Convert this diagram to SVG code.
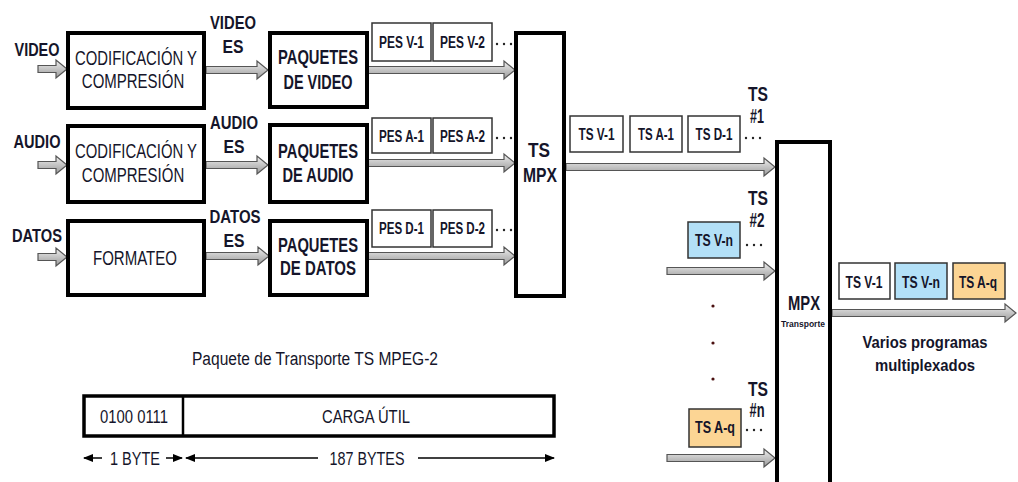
<svg xmlns="http://www.w3.org/2000/svg" width="1018" height="482" viewBox="0 0 1018 482">
<defs>
<linearGradient id="ag" x1="0" y1="0" x2="0" y2="1">
<stop offset="0" stop-color="#f0f0f0"/><stop offset="0.5" stop-color="#c4c4c4"/><stop offset="1" stop-color="#9a9a9a"/>
</linearGradient>
<marker id="hl" viewBox="0 0 10 10" refX="1" refY="5" markerWidth="10" markerHeight="10" markerUnits="userSpaceOnUse" orient="auto"><path d="M10,1 L0,5 L10,9 Z" fill="#000"/></marker>
<marker id="hr" viewBox="0 0 10 10" refX="9" refY="5" markerWidth="10" markerHeight="10" markerUnits="userSpaceOnUse" orient="auto"><path d="M0,1 L10,5 L0,9 Z" fill="#000"/></marker>
<g id="d3"><circle cx="0" cy="0" r="1.2"/><circle cx="7" cy="0" r="1.2"/><circle cx="14" cy="0" r="1.2"/></g>
</defs>
<style>
text{font-family:"Liberation Sans Narrow","Liberation Sans",Arial,sans-serif;fill:#15152a;text-anchor:middle}
.b{font-weight:bold}
.big{font-size:20px}
.lbl{font-size:19px;font-weight:bold}
.sm{font-size:16px;font-weight:bold}
.box{fill:#fff;stroke:#000;stroke-width:4}
.pk{fill:#fff;stroke:#333;stroke-width:1.5}
.blue{fill:#b3e0f7;stroke:#333;stroke-width:1.5}
.org{fill:#fcd594;stroke:#333;stroke-width:1.5}
.arr{fill:url(#ag);stroke:#555;stroke-width:1.2}
.dd{fill:#222}
.vd{fill:#4a1010}
</style>

<g id="connectors">
<path class="arr" d="M38,65.5 L56,65.5 L56,60 L67,69 L56,78 L56,72.5 L38,72.5 Z"/>
<path class="arr" d="M38,161.5 L56,161.5 L56,156 L67,165 L56,174 L56,168.5 L38,168.5 Z"/>
<path class="arr" d="M38,253.5 L56,253.5 L56,248 L67,257 L56,266 L56,260.5 L38,260.5 Z"/>
<path class="arr" d="M206,66.5 L257,66.5 L257,61 L268,70 L257,79 L257,73.5 L206,73.5 Z"/>
<path class="arr" d="M206,161.5 L257,161.5 L257,156 L268,165 L257,174 L257,168.5 L206,168.5 Z"/>
<path class="arr" d="M206,252.5 L258,252.5 L258,247 L269,256 L258,265 L258,259.5 L206,259.5 Z"/>
<path class="arr" d="M368,66.5 L504,66.5 L504,61 L515,70 L504,79 L504,73.5 L368,73.5 Z"/>
<path class="arr" d="M368,159.5 L504,159.5 L504,154 L515,163 L504,172 L504,166.5 L368,166.5 Z"/>
<path class="arr" d="M368,252.5 L504,252.5 L504,247 L515,256 L504,265 L504,259.5 L368,259.5 Z"/>
<path class="arr" d="M566,163.5 L764,163.5 L764,158 L775,167 L764,176 L764,170.5 L566,170.5 Z"/>
<path class="arr" d="M667,267.5 L764,267.5 L764,262 L775,271 L764,280 L764,274.5 L667,274.5 Z"/>
<path class="arr" d="M667,454.5 L764,454.5 L764,449 L775,458 L764,467 L764,461.5 L667,461.5 Z"/>
<path class="arr" d="M832,309.5 L1005,309.5 L1005,304 L1016,313 L1005,322 L1005,316.5 L832,316.5 Z"/>
</g>

<g id="labels-in">
<text class="lbl" x="37" y="56" textLength="45" lengthAdjust="spacingAndGlyphs">VIDEO</text>
<text class="lbl" x="37" y="148" textLength="47" lengthAdjust="spacingAndGlyphs">AUDIO</text>
<text class="lbl" x="37" y="242" textLength="50" lengthAdjust="spacingAndGlyphs">DATOS</text>
<text class="lbl" x="233" y="29" textLength="46" lengthAdjust="spacingAndGlyphs">VIDEO</text>
<text class="lbl" x="233" y="53" textLength="21" lengthAdjust="spacingAndGlyphs">ES</text>
<text class="lbl" x="234" y="129" textLength="48" lengthAdjust="spacingAndGlyphs">AUDIO</text>
<text class="lbl" x="234" y="153" textLength="21" lengthAdjust="spacingAndGlyphs">ES</text>
<text class="lbl" x="235" y="223" textLength="51" lengthAdjust="spacingAndGlyphs">DATOS</text>
<text class="lbl" x="234" y="247" textLength="21" lengthAdjust="spacingAndGlyphs">ES</text>
</g>

<g id="cod-video">
<rect class="box" x="68" y="33" width="136" height="75"/>
<text class="big" transform="translate(136,65) scale(0.744,1)" x="0" y="0">CODIFICACIÓN Y</text>
<text class="big" transform="translate(133,88) scale(0.75,1)" x="0" y="0">COMPRESIÓN</text>
</g>
<g id="cod-audio">
<rect class="box" x="68" y="126" width="136" height="76"/>
<text class="big" transform="translate(136,158) scale(0.744,1)" x="0" y="0">CODIFICACIÓN Y</text>
<text class="big" transform="translate(133,182) scale(0.75,1)" x="0" y="0">COMPRESIÓN</text>
</g>
<g id="formateo">
<rect class="box" x="68" y="221" width="136" height="74"/>
<text class="big" x="135" y="265" textLength="84" lengthAdjust="spacingAndGlyphs">FORMATEO</text>
</g>

<g id="paq-video">
<rect class="box" x="270" y="33" width="97" height="74"/>
<text class="b big" x="318" y="64" textLength="80" lengthAdjust="spacingAndGlyphs">PAQUETES</text>
<text class="b big" x="318" y="89" textLength="69" lengthAdjust="spacingAndGlyphs">DE VIDEO</text>
</g>
<g id="paq-audio">
<rect class="box" x="270" y="125" width="97" height="77"/>
<text class="b big" x="318" y="158" textLength="80" lengthAdjust="spacingAndGlyphs">PAQUETES</text>
<text class="b big" x="318" y="182" textLength="71" lengthAdjust="spacingAndGlyphs">DE AUDIO</text>
</g>
<g id="paq-datos">
<rect class="box" x="270" y="221" width="97" height="74"/>
<text class="b big" x="318" y="252" textLength="80" lengthAdjust="spacingAndGlyphs">PAQUETES</text>
<text class="b big" x="318" y="275" textLength="76" lengthAdjust="spacingAndGlyphs">DE DATOS</text>
</g>

<g id="pes">
<rect class="pk" x="372" y="23" width="59" height="38"/><text class="sm" x="401.5" y="48" textLength="45" lengthAdjust="spacingAndGlyphs">PES V-1</text>
<rect class="pk" x="433" y="23" width="59" height="38"/><text class="sm" x="462.5" y="48" textLength="45" lengthAdjust="spacingAndGlyphs">PES V-2</text>
<use href="#d3" class="dd" x="497" y="44"/>
<rect class="pk" x="372" y="118" width="59" height="35"/><text class="sm" x="401.5" y="142" textLength="45" lengthAdjust="spacingAndGlyphs">PES A-1</text>
<rect class="pk" x="433" y="118" width="59" height="35"/><text class="sm" x="462.5" y="142" textLength="45" lengthAdjust="spacingAndGlyphs">PES A-2</text>
<use href="#d3" class="dd" x="497" y="138"/>
<rect class="pk" x="372" y="210" width="59" height="37"/><text class="sm" x="401.5" y="234" textLength="45" lengthAdjust="spacingAndGlyphs">PES D-1</text>
<rect class="pk" x="433" y="210" width="59" height="37"/><text class="sm" x="462.5" y="234" textLength="45" lengthAdjust="spacingAndGlyphs">PES D-2</text>
<use href="#d3" class="dd" x="497" y="230"/>
</g>

<g id="ts-mpx">
<rect class="box" x="516" y="33" width="48" height="263"/>
<text class="b big" x="539" y="157" textLength="22" lengthAdjust="spacingAndGlyphs">TS</text>
<text class="b big" x="540" y="182" textLength="34" lengthAdjust="spacingAndGlyphs">MPX</text>
</g>

<g id="ts1">
<rect class="pk" x="570" y="116" width="53" height="36"/><text class="sm" x="596.5" y="140" textLength="36" lengthAdjust="spacingAndGlyphs">TS V-1</text>
<rect class="pk" x="630" y="116" width="52" height="36"/><text class="sm" x="656" y="140" textLength="36" lengthAdjust="spacingAndGlyphs">TS A-1</text>
<rect class="pk" x="688" y="116" width="52" height="36"/><text class="sm" x="714" y="140" textLength="37" lengthAdjust="spacingAndGlyphs">TS D-1</text>
<use href="#d3" class="dd" x="746" y="138"/>
<text class="b big" x="758" y="101" textLength="20" lengthAdjust="spacingAndGlyphs">TS</text>
<text class="b big" x="757" y="123" textLength="14" lengthAdjust="spacingAndGlyphs">#1</text>
</g>

<g id="ts2">
<rect class="blue" x="688" y="222" width="52" height="36"/><text class="sm" x="714" y="246" textLength="38" lengthAdjust="spacingAndGlyphs">TS V-n</text>
<use href="#d3" class="dd" x="747" y="245"/>
<text class="b big" x="758" y="205" textLength="20" lengthAdjust="spacingAndGlyphs">TS</text>
<text class="b big" x="757" y="227" textLength="15" lengthAdjust="spacingAndGlyphs">#2</text>
</g>

<g id="vdots">
<circle class="vd" cx="713" cy="306" r="1.6"/>
<circle class="vd" cx="713" cy="343" r="1.6"/>
<circle class="vd" cx="713" cy="379" r="1.6"/>
</g>

<g id="tsn">
<rect class="org" x="689" y="409" width="52" height="38"/><text class="sm" x="715" y="433" textLength="40" lengthAdjust="spacingAndGlyphs">TS A-q</text>
<use href="#d3" class="dd" x="747" y="430"/>
<text class="b big" x="758" y="396" textLength="20" lengthAdjust="spacingAndGlyphs">TS</text>
<text class="b big" x="757" y="417" textLength="15" lengthAdjust="spacingAndGlyphs">#n</text>
</g>

<g id="mpx-transporte">
<rect class="box" x="777" y="142" width="53" height="346"/>
<text class="b big" x="804" y="310" textLength="32" lengthAdjust="spacingAndGlyphs">MPX</text>
<text class="b" x="803" y="327" style="font-size:9px" textLength="44" lengthAdjust="spacingAndGlyphs">Transporte</text>
</g>

<g id="output">
<rect class="pk" x="839" y="263" width="51" height="36"/><text class="sm" x="864" y="288" textLength="37" lengthAdjust="spacingAndGlyphs">TS V-1</text>
<rect class="blue" x="895" y="263" width="52" height="36"/><text class="sm" x="921" y="288" textLength="38" lengthAdjust="spacingAndGlyphs">TS V-n</text>
<rect class="org" x="953" y="263" width="52" height="36"/><text class="sm" x="978" y="288" textLength="38" lengthAdjust="spacingAndGlyphs">TS A-q</text>
<text class="b" x="925" y="348" style="font-size:17px" textLength="125" lengthAdjust="spacingAndGlyphs">Varios programas</text>
<text class="b" x="925" y="371" style="font-size:17px" textLength="100" lengthAdjust="spacingAndGlyphs">multiplexados</text>
</g>

<g id="packet">
<text x="315" y="365" style="font-size:18px" textLength="246" lengthAdjust="spacingAndGlyphs">Paquete de Transporte TS  MPEG-2</text>
<rect x="84" y="396" width="470" height="40" fill="#fff" stroke="#000" stroke-width="3.5"/>
<line x1="183" y1="396" x2="183" y2="436" stroke="#000" stroke-width="2.5"/>
<text x="134" y="423" style="font-size:19px" textLength="68" lengthAdjust="spacingAndGlyphs">0100 0111</text>
<text x="366" y="423" style="font-size:19px" textLength="88" lengthAdjust="spacingAndGlyphs">CARGA ÚTIL</text>
<line x1="84" y1="458" x2="102" y2="458" stroke="#000" stroke-width="1.5" marker-start="url(#hl)"/>
<text x="135" y="465" style="font-size:19px" textLength="50" lengthAdjust="spacingAndGlyphs">1 BYTE</text>
<line x1="166" y1="458" x2="182" y2="458" stroke="#000" stroke-width="1.5" marker-end="url(#hr)"/>
<line x1="186" y1="458" x2="318" y2="458" stroke="#000" stroke-width="1.5" marker-start="url(#hl)"/>
<text x="367" y="465" style="font-size:19px" textLength="75" lengthAdjust="spacingAndGlyphs">187 BYTES</text>
<line x1="418" y1="458" x2="554" y2="458" stroke="#000" stroke-width="1.5" marker-end="url(#hr)"/>
</g>
</svg>
